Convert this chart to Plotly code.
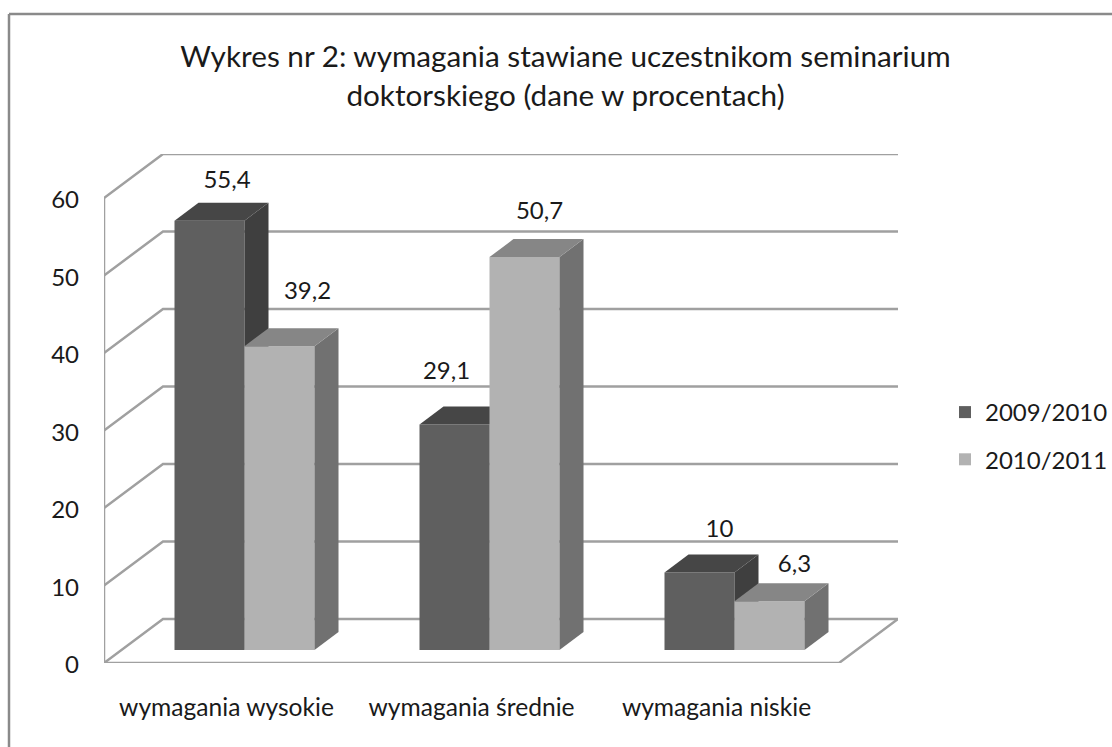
import plotly.graph_objects as go

categories = ["wymagania wysokie", "wymagania średnie", "wymagania niskie"]
values_2009 = [55.4, 29.1, 10]
values_2010 = [39.2, 50.7, 6.3]
labels_2009 = ["55,4", "29,1", "10"]
labels_2010 = ["39,2", "50,7", "6,3"]
y_ticks = [0, 10, 20, 30, 40, 50, 60]
title_lines = ["Wykres nr 2: wymagania stawiane uczestnikom seminarium",
               "doktorskiego (dane w procentach)"]

FONT = "Lato"
INK = "#1a1a1a"
TEXT_SIZE = 24
W, H = 1112, 747
L, R, T, B = 104, 898, 154, 663
PX_X = 245.0
PX_Y = 7.75
xr = [-0.5, -0.5 + (R - L) / PX_X]
yr = [0, (B - T) / PX_Y]


def ux(px):
    return px / PX_X


def uy(px):
    return px / PX_Y


WALL_DX, WALL_DY = ux(59), uy(44)
BAR_W = ux(70)
BAR_SHIFT = ux(18)
BASE = uy(13)
DEPTH_X, DEPTH_Y = ux(24), uy(18)

fig = go.Figure()
GRID = "#a0a0a0"


def wall(xs, ys):
    fig.add_trace(go.Scatter(x=xs, y=ys, mode="lines", line=dict(color=GRID, width=2.5),
                             hoverinfo="skip", showlegend=False, xaxis="x", yaxis="y"))


x_left = xr[0]
x_right = xr[1]
for t in y_ticks:
    wall([x_left, x_left + WALL_DX, x_right], [t, t + WALL_DY, t + WALL_DY])
wall([x_left, x_left], [y_ticks[0], y_ticks[-1]])
wall([x_left, x_right - WALL_DX, x_right], [0, 0, WALL_DY])


def layer(values, name, front, top, side, offset, xa, ya):
    xs = [i + BAR_SHIFT + offset for i in range(len(values))]
    fig.add_trace(go.Bar(x=xs, y=values, base=BASE, width=BAR_W, name=name, legendgroup=name,
                         marker=dict(color=front, line=dict(width=0)),
                         xaxis=xa, yaxis=ya))
    for xc, v in zip(xs, values):
        x0, x1 = xc - BAR_W / 2, xc + BAR_W / 2
        yt = BASE + v
        fig.add_trace(go.Scatter(
            x=[x1, x1 + DEPTH_X, x1 + DEPTH_X, x1, x1],
            y=[BASE, BASE + DEPTH_Y, yt + DEPTH_Y, yt, BASE],
            mode="lines", fill="toself", fillcolor=side, line=dict(width=0),
            hoverinfo="skip", showlegend=False, xaxis=xa, yaxis=ya))
        fig.add_trace(go.Scatter(
            x=[x0, x1, x1 + DEPTH_X, x0 + DEPTH_X, x0],
            y=[yt, yt, yt + DEPTH_Y, yt + DEPTH_Y, yt],
            mode="lines", fill="toself", fillcolor=top, line=dict(width=0),
            hoverinfo="skip", showlegend=False, xaxis=xa, yaxis=ya))
    return xs


xs_a = layer(values_2009, "2009/2010", "#5f5f5f", "#464646", "#3f3f3f", -BAR_W / 2, "x2", "y2")
xs_b = layer(values_2010, "2010/2011", "#b2b2b2", "#868686", "#717171", BAR_W / 2, "x3", "y3")

# The source chart's data labels were hand-placed; these are px nudges from the bar's top centre.
nudge_x_2009 = [17.5, -8, 20]
nudge_up_2009 = [39, 51, 42]
nudge_x_2010 = [28, 15, 25]
nudge_up_2010 = [53, 44, 35]


def labels(xs, values, texts, nx, nu):
    fig.add_trace(go.Scatter(
        x=[x + ux(n) for x, n in zip(xs, nx)],
        y=[BASE + v + uy(n) for v, n in zip(values, nu)],
        mode="text", text=texts, textposition="middle center",
        textfont=dict(family=FONT, size=TEXT_SIZE, color=INK),
        hoverinfo="skip", showlegend=False, xaxis="x3", yaxis="y3"))


labels(xs_a, values_2009, labels_2009, nudge_x_2009, nudge_up_2009)
labels(xs_b, values_2010, labels_2010, nudge_x_2010, nudge_up_2010)

hidden = dict(range=xr, visible=False, fixedrange=True)
hidden_y = dict(range=yr, visible=False, fixedrange=True)


def px_paper_x(p):
    return (p - L) / (R - L)


def px_paper_y(p):
    return (B - p) / (B - T)


FRAME = dict(type="line", xref="paper", yref="paper", layer="below",
             line=dict(color="#8a8a8a", width=2.5))

fig.update_layout(
    width=W, height=H,
    margin=dict(l=L, r=W - R, t=T, b=H - B, autoexpand=False),
    paper_bgcolor="white", plot_bgcolor="rgba(0,0,0,0)",
    barmode="overlay",
    font=dict(family=FONT, size=TEXT_SIZE, color=INK),
    title=dict(text="<br>".join(title_lines), x=565.5 / W, xanchor="center",
               y=1 - 67 / H, yanchor="middle", font=dict(family=FONT, size=29.7, color=INK)),
    xaxis=dict(range=xr, tickmode="array", tickvals=list(range(len(categories))), ticktext=categories,
               showgrid=False, zeroline=False, showline=False, ticks="", ticklabelstandoff=27,
               tickfont=dict(family=FONT, size=24.6, color=INK), fixedrange=True),
    yaxis=dict(range=yr, tickmode="array", tickvals=y_ticks, showgrid=False, zeroline=False,
               showline=False, ticks="", ticklabelstandoff=24, ticklabelshift=2,
               tickfont=dict(family=FONT, size=TEXT_SIZE, color=INK), fixedrange=True),
    xaxis2=dict(overlaying="x", **hidden), yaxis2=dict(overlaying="y", **hidden_y),
    xaxis3=dict(overlaying="x", **hidden), yaxis3=dict(overlaying="y", **hidden_y),
    legend=dict(x=px_paper_x(945), y=px_paper_y(390), xanchor="left", yanchor="top",
                tracegroupgap=13, itemwidth=30, font=dict(family=FONT, size=TEXT_SIZE, color=INK),
                bgcolor="rgba(0,0,0,0)", itemclick=False, itemdoubleclick=False),
    shapes=[
        dict(FRAME, x0=px_paper_x(9), x1=px_paper_x(W), y0=px_paper_y(14), y1=px_paper_y(14)),
        dict(FRAME, x0=px_paper_x(9), x1=px_paper_x(9), y0=px_paper_y(14), y1=px_paper_y(H)),
    ],
)

fig.write_html("out.html", config=dict(displayModeBar=False),
               post_script="document.body.style.margin='0';document.documentElement.style.overflow='hidden';")
